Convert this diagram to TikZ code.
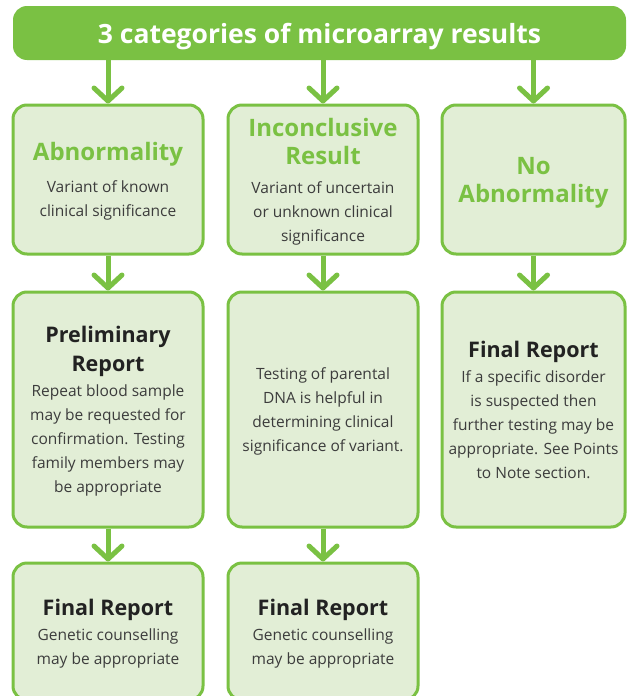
\documentclass[tikz,border=0pt]{standalone}
\usepackage{fontspec}
\setmainfont{Open Sans}
\usetikzlibrary{arrows.meta, positioning}
\definecolor{leafc}{HTML}{7AC143}
\definecolor{mintc}{HTML}{E2EED6}
\definecolor{inkc}{HTML}{3C3C3C}
\definecolor{headc}{HTML}{222222}

\begin{document}
\begin{tikzpicture}[x=1pt, y=-1pt,
      hdr/.style={fill=leafc, rounded corners=14pt, minimum width=613pt, minimum height=54pt, text depth=0pt, text=white, font=\fontsize{26.5}{30}\selectfont\bfseries},
      result/.style={draw=leafc, line width=3pt, fill=mintc, rounded corners=14pt, align=center, inner sep=4pt, text depth=0pt, text=inkc, font=\fontsize{15.5}{24}\selectfont},
      wide/.style={result, minimum width=190pt},
      narrow/.style={result, minimum width=183pt},
      arr/.style={draw=leafc, line width=5pt, -{Straight Barb[length=13pt, width=28pt, round]}}]
    \path[use as bounding box, fill=white] (0,0) rectangle (627,696);
    \node[hdr] (top) at (319.5,33) {3 categories of microarray results};
    % first row
    \node[wide, minimum height=149pt] (abn) at (108,179.5) {{\color{leafc}\fontsize{24}{28}\selectfont\bfseries Abnormality}\\[8pt]Variant of known\\clinical significance};
    \node[wide, minimum height=149pt] (inc) at (323,179.5) {{\color{leafc}\fontsize{24}{28}\selectfont\bfseries Inconclusive}\\[4pt]{\color{leafc}\fontsize{24}{28}\selectfont\bfseries Result}\\[5pt]Variant of uncertain\\or unknown clinical\\significance};
    \node[narrow, minimum height=149pt] (noab) at (533.5,179.5) {{\color{leafc}\fontsize{24}{28}\selectfont\bfseries No}\\[4pt]{\color{leafc}\fontsize{24}{28}\selectfont\bfseries Abnormality}};
    % second row
    \node[wide, minimum height=235pt] (pre) at (108,409.5) {{\color{headc}\fontsize{21.5}{28}\selectfont\bfseries Preliminary}\\[5pt]{\color{headc}\fontsize{21.5}{28}\selectfont\bfseries Report}\\[1pt]Repeat blood sample\\may be requested for\\confirmation. Testing\\family members may\\be appropriate};
    \node[wide, minimum height=235pt] (par) at (323,409.5) {Testing of parental\\DNA is helpful in\\determining clinical\\significance of variant.};
    \node[narrow, minimum height=235pt] (fin3) at (533.5,409.5) {{\color{headc}\fontsize{21.5}{28}\selectfont\bfseries Final Report}\\[1pt]If a specific disorder\\is suspected then\\further testing may be\\appropriate. See Points\\to Note section.};
    % third row
    \node[wide, minimum height=137pt] (fin1) at (108,631.5) {{\color{headc}\fontsize{21.5}{28}\selectfont\bfseries Final Report}\\[1pt]Genetic counselling\\may be appropriate};
    \node[wide, minimum height=137pt] (fin2) at (323,631.5) {{\color{headc}\fontsize{21.5}{28}\selectfont\bfseries Final Report}\\[1pt]Genetic counselling\\may be appropriate};
    % connectors
    \draw[arr] (top.south -| abn.north) -- (abn.north);
    \draw[arr] (top.south -| inc.north) -- (inc.north);
    \draw[arr] (top.south -| noab.north) -- (noab.north);
    \draw[arr] (abn) -- (pre);
    \draw[arr] (inc) -- (par);
    \draw[arr] (noab) -- (fin3);
    \draw[arr] (pre) -- (fin1);
    \draw[arr] (par) -- (fin2);
\end{tikzpicture}
\end{document}
